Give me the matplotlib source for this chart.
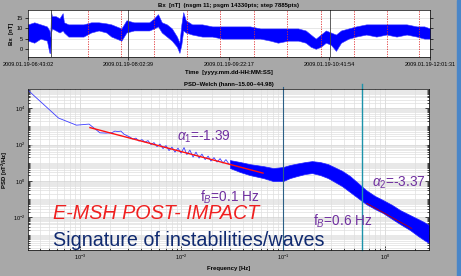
import matplotlib.pyplot as plt
from matplotlib.patches import Rectangle
from matplotlib.ticker import LogLocator, NullFormatter, FixedLocator

plt.rcParams['font.family'] = ['Liberation Sans', 'DejaVu Sans']
plt.rcParams['mathtext.fontset'] = 'custom'
plt.rcParams['mathtext.rm'] = 'Liberation Sans'
plt.rcParams['mathtext.it'] = 'Liberation Sans:italic'
plt.rcParams['mathtext.bf'] = 'Liberation Sans:bold'

# ---- top panel: Bx [nT], min/max envelope read per time bin (minutes after 06:43:02)
t_min = [0, 5, 10, 15, 17, 17.6, 18.3, 19, 22, 25, 27.5, 28.5, 32, 38, 44, 50, 56, 62,
         66, 70, 74, 78, 84, 90, 96, 100, 103, 106, 110, 114, 118, 120, 121.5, 123, 125,
         130, 138, 146, 154, 160, 168, 176, 184, 192, 198, 206, 214, 220, 224, 228, 232,
         236, 240, 244, 248, 254, 260, 268, 276, 284, 292, 300, 308, 314, 318.5]
bx_lo = [4, 3, 5, 4, -2, -2, 8, 10, 9, 8, 9, 8, 6, 6, 6, 8, 9, 8,
         6, 5, 4, 8, 9, 9, 9, 10, 11, 8, 6, 4, 1, -2, 2, 9, 8,
         7, 6, 6, 5, 5, 5, 5, 5, 4, 3, 4, 4, 3, 1, 0, 1,
         3, 2, -1, 3, 5, 6, 7, 6, 7, 6, 7, 6, 5, 5]
bx_hi = [12, 13, 12, 11, 9, 6, 18, 16, 16, 15, 17.5, 13, 12, 12, 12, 13, 13, 12.5,
         12, 11, 10, 14, 13, 13, 13, 15, 17, 13, 12, 10, 6, 3, 12, 18, 14,
         12, 12, 11, 11, 11, 11, 11, 10, 10, 10, 10, 10, 9, 7, 5, 7,
         9, 8, 7, 9, 10, 11, 12, 12, 12, 12, 12, 11, 11, 10]
time_ticks = [0, 79.62, 159.25, 238.87, 318.48]
time_labels = ['2009.01.19-06:43:02', '2009.01.19-08:02:39', '2009.01.19-09:22:17',
               '2009.01.19-10:41:54', '2009.01.19-12:01:31']
seg_lines = [47.3, 73.5, 99.6, 125.8, 151.9, 178.9, 205.0, 231.9, 258.1, 284.3, 309.6]
dark_lines = [18.0, 79.6, 238.9]

# ---- bottom panel: Welch PSD
psd_f = [3.08e-4, 6.16e-4, 9.24e-4, 1.23e-3, 1.574e-3, 1.80e-3, 2.05e-3, 2.21e-3, 2.37e-3,
         2.53e-3, 2.71e-3, 2.90e-3, 3.11e-3, 3.33e-3, 3.56e-3, 3.81e-3, 4.08e-3, 4.37e-3,
         4.68e-3, 5.01e-3, 5.36e-3, 5.74e-3, 6.14e-3, 6.58e-3, 7.04e-3, 7.54e-3, 8.06e-3,
         8.63e-3, 9.24e-3, 9.89e-3, 1.06e-2, 1.13e-2, 1.21e-2, 1.30e-2, 1.39e-2, 1.49e-2,
         1.59e-2, 1.71e-2, 1.83e-2, 1.95e-2, 2.09e-2, 2.24e-2, 2.40e-2, 2.56e-2, 2.74e-2,
         2.94e-2]
psd_p = [1.0e5, 2900, 1180, 1350, 447, 430, 447, 555, 520,
         555, 379, 314, 259, 201, 228, 156, 189, 137,
         166, 100, 129, 77.6, 107, 60.3, 88.1, 46.7, 72.8,
         38.6, 64.1, 34.0, 68.4, 28.1, 49.8, 20.5, 38.6, 18.0,
         30.0, 14.9, 23.2, 12.3, 19.2, 10.9, 16.9, 9.6, 14.9,
         8.4]
band_f = [0.030, 0.038, 0.047, 0.064, 0.080, 0.100, 0.117, 0.137, 0.165, 0.193, 0.232,
          0.277, 0.325, 0.381, 0.457, 0.548, 0.657, 0.805, 0.966, 1.19, 1.42, 1.78, 2.14,
          2.45, 2.74]
band_hi = [14.0, 10.9, 8.4, 6.5, 5.1, 5.8, 7.5, 9.0, 10.9, 12.3, 10.9,
           8.4, 5.5, 3.6, 1.84, 0.757, 0.311, 0.146, 0.0875, 0.0465, 0.0246, 0.0131, 0.00786,
           0.00537, 0.00367]
band_lo = [5.1, 3.05, 2.1, 1.43, 0.975, 0.975, 1.43, 1.84, 2.4, 2.7, 2.1,
           1.43, 0.86, 0.517, 0.242, 0.113, 0.0527, 0.0279, 0.0168, 0.00786, 0.00417, 0.00195,
           0.00091, 0.000547, 0.000374]
fit1_f = [1.256e-3, 0.0635]
fit1_p = [865, 2.69]
fit2_f = [0.668, 1.85]
fit2_p = [0.0575, 2.4e-3]
fb_freqs = [0.1, 0.6]
fb_colors = ['#2b5f86', '#1c93aa']

purple = '#7030a0'

fig = plt.figure(figsize=(4.61, 2.76), dpi=100, facecolor='#a8a8a8')
fig.patches.append(Rectangle((457 / 461, 0), 4 / 461, 1, transform=fig.transFigure,
                             color='#4a86c8', zorder=0))

# ---------------- top panel
ax1 = fig.add_axes([0.0607, 0.7935, 0.872, 0.170])
for t in seg_lines:
    ax1.axvline(t, color='#e03030', ls=(0, (1.5, 1.5)), lw=0.6)
for t in dark_lines:
    ax1.axvline(t, color='#444444', lw=0.6)
for v in [0, 5, 10, 15]:
    ax1.axhline(v, color='#dddddd', lw=0.5, zorder=0)
ax1.fill_between(t_min, bx_lo, bx_hi, color='#0000ff', lw=0.4, edgecolor='#3a3aff')
ax1.set_xlim(0, 318.48)
ax1.set_ylim(-4, 19)
ax1.set_yticks([0, 5, 10, 15])
ax1.set_xticks(time_ticks)
ax1.set_xticklabels(time_labels)
ax1.tick_params(labelsize=4, length=2, width=0.5, right=True, pad=1.5)
ax1.set_ylabel('Bx  [nT]', fontsize=4.3, fontweight='bold', labelpad=2)
ax1.set_xlabel('Time  [yyyy.mm.dd-HH:MM:SS]', fontsize=4.3, fontweight='bold', labelpad=2)
ax1.set_title('Bx  [nT]  (nsgm 11; psgm 14330pts; step 7885pts)', fontsize=4.3,
              fontweight='bold', pad=2)
for s in ax1.spines.values():
    s.set_linewidth(0.5)

# ---------------- bottom panel
ax2 = fig.add_axes([0.0607, 0.0942, 0.870, 0.583])
ax2.set_xscale('log')
ax2.set_yscale('log')
ax2.set_xlim(3.08e-4, 2.74)
ax2.set_ylim(10 ** -3.81, 10 ** 5.06)
ax2.yaxis.set_major_locator(FixedLocator([1e-2, 1, 1e2, 1e4]))
ax2.yaxis.set_minor_locator(LogLocator(base=10, subs=[1, 2, 3, 4, 5, 6, 7, 8, 9], numticks=30))
ax2.yaxis.set_minor_formatter(NullFormatter())
ax2.xaxis.set_major_locator(FixedLocator([1e-3, 1e-2, 1e-1, 1]))
ax2.xaxis.set_minor_locator(LogLocator(base=10, subs=[2, 3, 4, 5, 6, 7, 8, 9], numticks=30))
ax2.xaxis.set_minor_formatter(NullFormatter())
ax2.grid(which='major', color='#cfcfcf', lw=0.5)
ax2.grid(which='minor', color='#dedede', lw=0.5)
ax2.set_axisbelow(True)

ax2.plot(psd_f, psd_p, color='#3c3cff', lw=0.6)
ax2.fill_between(band_f, band_lo, band_hi, color='#0000ff', lw=0.5, edgecolor='#2020ff')
ax2.plot(fit1_f, fit1_p, color='#ff1010', lw=1.0)
ax2.plot(fit2_f, fit2_p, color='#c00000', lw=0.6)
ax2.axvline(fb_freqs[0], color=fb_colors[0], lw=0.8, ymax=1.014, clip_on=False)
ax2.axvline(fb_freqs[1], color=fb_colors[1], lw=1.0, ymax=1.03, clip_on=False)

ax2.tick_params(which='both', labelsize=4, width=0.5, right=True, direction='in', pad=2)
ax2.tick_params(which='major', length=3)
ax2.tick_params(which='minor', length=1.5)
ax2.set_xlabel('Frequency [Hz]', fontsize=4.3, fontweight='bold', labelpad=3)
ax2.set_ylabel(r'PSD [nT$\mathbf{^2}$/Hz]', fontsize=4.3, fontweight='bold', labelpad=2)
ax2.set_title('PSD\u2013Welch (hann\u201315.00\u201344.98)', fontsize=4.3, fontweight='bold', pad=2)
for s in ax2.spines.values():
    s.set_linewidth(0.5)

ax2.text(0.372, 0.702, r'$\alpha_1$=-1.39', transform=ax2.transAxes, color=purple,
         fontsize=9.8, ha='left', va='center')
ax2.text(0.429, 0.33, r'f$_B$=0.1 Hz', transform=ax2.transAxes, color=purple,
         fontsize=9.8, ha='left', va='center')
ax2.text(0.858, 0.416, r'$\alpha_2$=-3.37', transform=ax2.transAxes, color=purple,
         fontsize=9.8, ha='left', va='center')
ax2.text(0.711, 0.18, r'f$_B$=0.6 Hz', transform=ax2.transAxes, color=purple,
         fontsize=9.8, ha='left', va='center')
ax2.text(0.062, 0.191, 'E-MSH POST- IMPACT', transform=ax2.transAxes, color='#f02020',
         fontsize=14.2, style='italic', ha='left', va='baseline')
ax2.text(0.062, 0.025, 'Signature of instabilities/waves', transform=ax2.transAxes,
         color='#102a70', fontsize=14.2, ha='left', va='baseline')

fig.savefig('out.png', dpi=100, facecolor=fig.get_facecolor())
